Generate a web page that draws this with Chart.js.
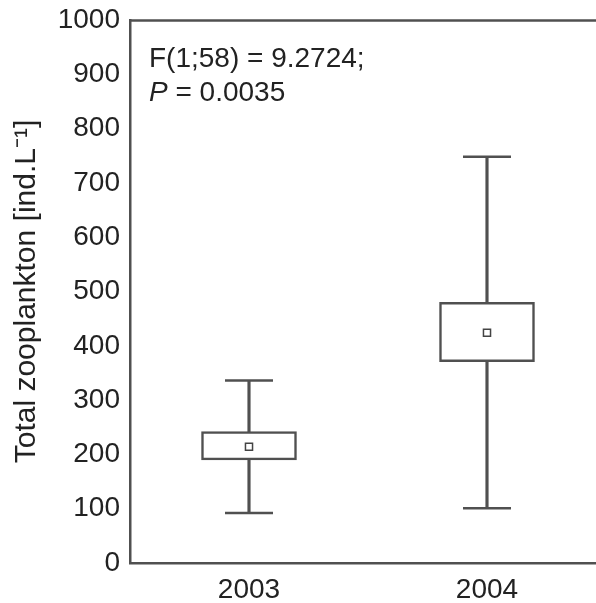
<!DOCTYPE html>
<html>
<head>
<meta charset="utf-8">
<script src="https://cdn.jsdelivr.net/npm/chart.js@4.4.1/dist/chart.umd.min.js"></script>
<style>
  html, body { margin: 0; padding: 0; background: #fff; overflow: hidden; }
  #wrap { width: 596px; height: 603px; overflow: hidden; }
</style>
</head>
<body>
<div id="wrap"><canvas id="chart" width="610" height="603"></canvas></div>
<script>
const years = ['2003', '2004'];
const whiskerMin = [92, 101];
const whiskerMax = [336, 748];
const boxLow = [190, 371];
const boxHigh = [242, 480];
const means = [214, 424];
const yTicks = [0, 100, 200, 300, 400, 500, 600, 700, 800, 900, 1000];
const statLine1 = 'F(1;58) = 9.2724;';
const statLine2 = ' = 0.0035';

const lineColor = '#505050';
const textColor = '#222';
const font = 'Liberation Sans, Arial, sans-serif';

// top frame line + annotation text
const extras = {
  id: 'extras',
  afterDraw(chart) {
    const { ctx, chartArea } = chart;
    ctx.save();
    ctx.strokeStyle = lineColor;
    ctx.lineWidth = 2.5;
    ctx.beginPath();
    ctx.moveTo(chartArea.left, chartArea.top + 0.5);
    ctx.lineTo(chartArea.right, chartArea.top + 0.5);
    ctx.stroke();

    ctx.fillStyle = textColor;
    ctx.textBaseline = 'alphabetic';
    ctx.font = '28px ' + font;
    const x = chartArea.left + 19;
    ctx.fillText(statLine1, x, chartArea.top + 47);
    ctx.font = 'italic 28px ' + font;
    ctx.fillText('P', x, chartArea.top + 81);
    const w = ctx.measureText('P').width;
    ctx.font = '28px ' + font;
    ctx.fillText(statLine2, x + w, chartArea.top + 81);
    ctx.restore();
  }
};

new Chart(document.getElementById('chart'), {
  data: {
    labels: years,
    datasets: [
      {
        type: 'bar',
        data: years.map((y, i) => [whiskerMin[i], whiskerMax[i]]),
        backgroundColor: lineColor,
        barThickness: 2.5,
        grouped: false,
        order: 3
      },
      {
        type: 'bar',
        data: years.map((y, i) => [boxLow[i], boxHigh[i]]),
        backgroundColor: '#fff',
        borderColor: lineColor,
        borderWidth: 2.5,
        borderSkipped: false,
        barThickness: 95,
        grouped: false,
        order: 2
      },
      {
        type: 'line',
        data: whiskerMax,
        showLine: false,
        pointStyle: 'line',
        pointRadius: 24,
        pointBorderWidth: 2.5,
        pointBorderColor: lineColor,
        order: 1
      },
      {
        type: 'line',
        data: whiskerMin,
        showLine: false,
        pointStyle: 'line',
        pointRadius: 24,
        pointBorderWidth: 2.5,
        pointBorderColor: lineColor,
        order: 1
      },
      {
        type: 'line',
        data: means,
        showLine: false,
        pointStyle: 'rect',
        pointRadius: 5,
        pointBorderWidth: 1.5,
        pointBorderColor: '#444',
        pointBackgroundColor: '#fff',
        order: 0
      }
    ]
  },
  options: {
    responsive: false,
    animation: false,
    layout: { autoPadding: false, padding: { top: 20, right: 4, left: 0, bottom: 0 } },
    plugins: { legend: { display: false }, tooltip: { enabled: false } },
    scales: {
      x: {
        grid: { display: false, drawTicks: false },
        border: { color: lineColor, width: 2.5 },
        ticks: { color: textColor, font: { family: font, size: 28 }, padding: 10 },
        afterFit(scale) {
          scale.height = 40;
          scale.paddingLeft = 0;
          scale.paddingRight = 0;
        }
      },
      y: {
        min: 0,
        max: 1000,
        afterBuildTicks(scale) { scale.ticks = yTicks.map(v => ({ value: v })); },
        grid: { display: false, drawTicks: false },
        border: { color: lineColor, width: 2.5 },
        ticks: {
          color: textColor,
          font: { family: font, size: 28 },
          padding: 10,
          callback: v => String(v)
        },
        title: {
          display: true,
          text: 'Total zooplankton [ind.L⁻¹]',
          color: textColor,
          font: { family: font, size: 30 },
          padding: { top: 9, bottom: 0 }
        },
        afterFit(scale) {
          scale.width = 130;
          scale.paddingTop = 0;
          scale.paddingBottom = 0;
        }
      }
    }
  },
  plugins: [extras]
});
</script>
</body>
</html>
